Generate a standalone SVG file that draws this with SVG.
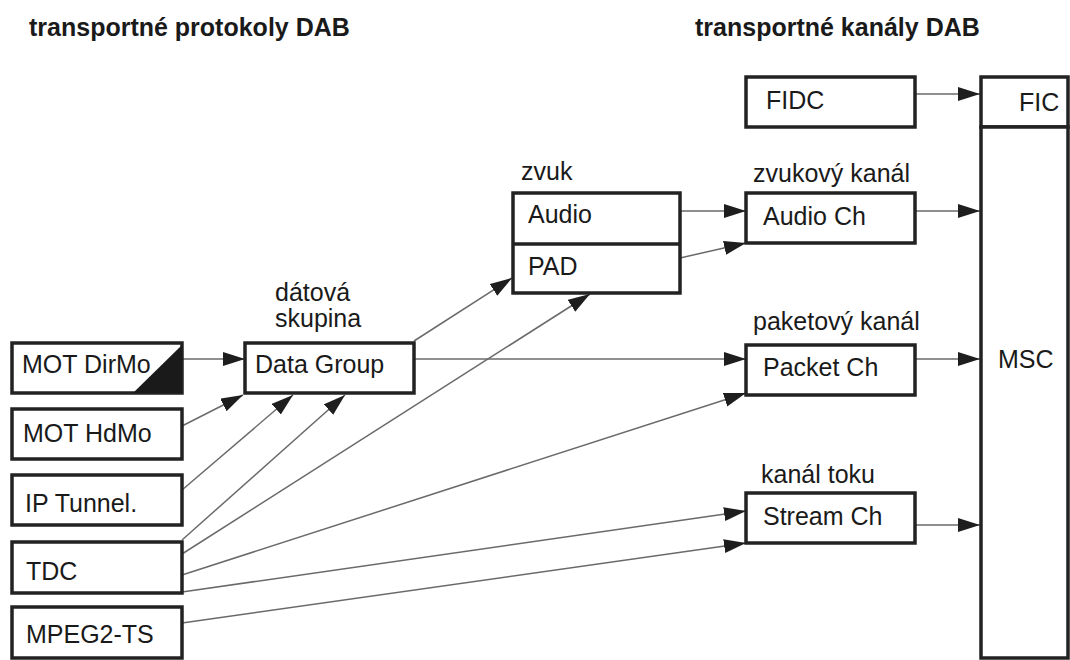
<svg xmlns="http://www.w3.org/2000/svg" width="1070" height="660" viewBox="0 0 1070 660">
  <style>
    .box { fill: #ffffff; stroke: #222222; stroke-width: 3.5; }
    .txt { font-family: "Liberation Sans", Arial, sans-serif; font-size: 25px; fill: #1a1a1a; }
    .title { font-family: "Liberation Sans", Arial, sans-serif; font-size: 25px; font-weight: bold; fill: #1a1a1a; }
    .conn { stroke: #6a6a6a; stroke-width: 1.5; fill: none; marker-end: url(#arrow); }
  </style>
  <defs>
    <marker id="arrow" markerUnits="userSpaceOnUse" markerWidth="24" markerHeight="16" refX="22" refY="7" orient="auto">
      <path d="M0,0 L22,7 L0,14 z" fill="#1e1e1e"/>
    </marker>
  </defs>

  <rect width="1070" height="660" fill="#ffffff"/>

  <!-- headings -->
  <text class="title" x="29" y="36">transportné protokoly DAB</text>
  <text class="title" x="695" y="36">transportné kanály DAB</text>

  <!-- connectors -->
  <g id="connectors">
    <line class="conn" x1="182" y1="359" x2="245" y2="359"/>
    <line class="conn" x1="182" y1="426" x2="243" y2="395"/>
    <line class="conn" x1="182" y1="490" x2="293" y2="395"/>
    <line class="conn" x1="182" y1="540" x2="345" y2="395"/>
    <line class="conn" x1="182" y1="554" x2="590" y2="294"/>
    <line class="conn" x1="182" y1="575" x2="746" y2="393"/>
    <line class="conn" x1="182" y1="592" x2="746" y2="511"/>
    <line class="conn" x1="182" y1="623" x2="746" y2="543"/>
    <line class="conn" x1="414" y1="341" x2="512" y2="278"/>
    <line class="conn" x1="414" y1="359" x2="746" y2="359"/>
    <line class="conn" x1="680" y1="211" x2="746" y2="211"/>
    <line class="conn" x1="680" y1="258" x2="746" y2="243"/>
    <line class="conn" x1="915" y1="94" x2="980" y2="94"/>
    <line class="conn" x1="915" y1="211" x2="980" y2="211"/>
    <line class="conn" x1="915" y1="359" x2="980" y2="359"/>
    <line class="conn" x1="915" y1="525" x2="980" y2="525"/>
  </g>

  <!-- protocol boxes -->
  <g id="mot-dirmo">
    <rect class="box" x="12" y="343" width="170" height="50"/>
    <path d="M133,393 L182,345 L182,393 z" fill="#1a1a1a"/>
    <text class="txt" x="22" y="373">MOT DirMo</text>
  </g>
  <g id="mot-hdmo">
    <rect class="box" x="12" y="409" width="170" height="50"/>
    <text class="txt" x="23" y="442">MOT HdMo</text>
  </g>
  <g id="ip-tunnel">
    <rect class="box" x="12" y="475" width="170" height="50"/>
    <text class="txt" x="25" y="512">IP Tunnel.</text>
  </g>
  <g id="tdc">
    <rect class="box" x="12" y="542" width="170" height="51"/>
    <text class="txt" x="26" y="580">TDC</text>
  </g>
  <g id="mpeg2-ts">
    <rect class="box" x="12" y="607" width="170" height="51"/>
    <text class="txt" x="26" y="643">MPEG2-TS</text>
  </g>

  <g id="data-group">
    <text class="txt" x="275" y="301">dátová</text>
    <text class="txt" x="275" y="327">skupina</text>
    <rect class="box" x="245" y="343" width="169" height="50"/>
    <text class="txt" x="255" y="373">Data Group</text>
  </g>

  <g id="audio-pad">
    <text class="txt" x="521" y="180">zvuk</text>
    <rect class="box" x="513" y="193" width="167" height="100"/>
    <line x1="513" y1="244" x2="680" y2="244" stroke="#222222" stroke-width="3.5"/>
    <text class="txt" x="528" y="223">Audio</text>
    <text class="txt" x="528" y="275">PAD</text>
  </g>

  <!-- channel boxes -->
  <g id="fidc">
    <rect class="box" x="746" y="77" width="169" height="50"/>
    <text class="txt" x="766" y="109">FIDC</text>
  </g>
  <g id="audio-ch">
    <text class="txt" x="753" y="182">zvukový kanál</text>
    <rect class="box" x="746" y="193" width="169" height="50"/>
    <text class="txt" x="763" y="225">Audio Ch</text>
  </g>
  <g id="packet-ch">
    <text class="txt" x="753" y="330">paketový kanál</text>
    <rect class="box" x="746" y="345" width="169" height="50"/>
    <text class="txt" x="763" y="376">Packet Ch</text>
  </g>
  <g id="stream-ch">
    <text class="txt" x="761" y="483">kanál toku</text>
    <rect class="box" x="746" y="493" width="169" height="50"/>
    <text class="txt" x="763" y="525">Stream Ch</text>
  </g>

  <g id="fic">
    <rect class="box" x="981" y="77" width="87" height="50"/>
    <text class="txt" x="1019" y="111">FIC</text>
  </g>
  <g id="msc">
    <rect class="box" x="981" y="127" width="87" height="531"/>
    <text class="txt" x="998" y="368">MSC</text>
  </g>
</svg>
